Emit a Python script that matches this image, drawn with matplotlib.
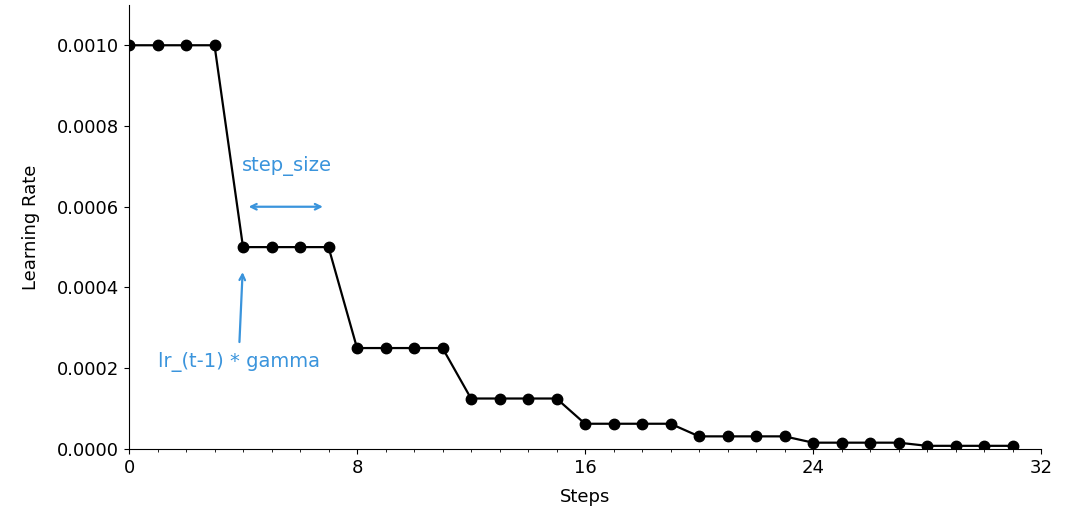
import matplotlib
matplotlib.use("Agg")
import matplotlib.pyplot as plt
from matplotlib.ticker import MultipleLocator

# step decay schedule
steps = list(range(32))
learning_rate = [
    0.001, 0.001, 0.001, 0.001,
    0.0005, 0.0005, 0.0005, 0.0005,
    0.00025, 0.00025, 0.00025, 0.00025,
    0.000125, 0.000125, 0.000125, 0.000125,
    0.0000625, 0.0000625, 0.0000625, 0.0000625,
    0.00003125, 0.00003125, 0.00003125, 0.00003125,
    0.000015625, 0.000015625, 0.000015625, 0.000015625,
    0.0000078125, 0.0000078125, 0.0000078125, 0.0000078125,
]
x_ticks = [0, 8, 16, 24, 32]

blue = "#3a94dc"
fs = 13

fig = plt.figure(figsize=(10.76, 5.14), dpi=100)
ax = fig.add_axes([0.1199, 0.1265, 0.8476, 0.864])

ax.plot(steps, learning_rate, color="black", marker="o", markersize=7.5, linewidth=1.6)

ax.set_xlim(0, 32)
ax.set_ylim(0, 0.0011)
ax.set_xticks(x_ticks)
ax.xaxis.set_minor_locator(MultipleLocator(1))
ax.set_yticks([0, 0.0002, 0.0004, 0.0006, 0.0008, 0.0010])
ax.set_yticklabels([f"{v:.4f}" for v in ax.get_yticks()])
ax.tick_params(labelsize=fs)
ax.spines["top"].set_visible(False)
ax.spines["right"].set_visible(False)
ax.set_xlabel("Steps", fontsize=fs, labelpad=8)
ax.set_ylabel("Learning Rate", fontsize=fs, labelpad=12)

# annotations
ax.annotate("", xy=(4.1, 0.0006), xytext=(6.9, 0.0006),
            arrowprops=dict(arrowstyle="<->", color=blue, lw=1.6))
ax.text(5.55, 0.00070, "step_size", color=blue, fontsize=14, ha="center", va="center")
ax.annotate("", xy=(3.99, 0.000445), xytext=(3.87, 0.000258),
            arrowprops=dict(arrowstyle="->", color=blue, lw=1.6))
ax.text(3.85, 0.000215, "lr_(t-1) * gamma", color=blue, fontsize=14, ha="center", va="center")

fig.savefig("out.png", dpi=100)
